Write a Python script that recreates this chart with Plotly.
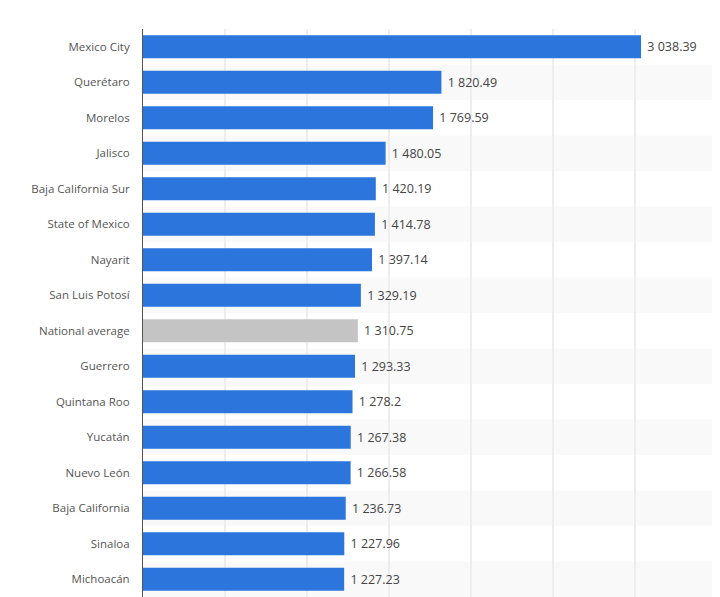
import plotly.graph_objects as go

states = ['Mexico City', 'Querétaro', 'Morelos', 'Jalisco', 'Baja California Sur',
          'State of Mexico', 'Nayarit', 'San Luis Potosí', 'National average',
          'Guerrero', 'Quintana Roo', 'Yucatán', 'Nuevo León', 'Baja California',
          'Sinaloa', 'Michoacán']
values = [3038.39, 1820.49, 1769.59, 1480.05, 1420.19, 1414.78, 1397.14, 1329.19,
          1310.75, 1293.33, 1278.2, 1267.38, 1266.58, 1236.73, 1227.96, 1227.23]

blue = 'rgb(43, 117, 220)'
grey = 'rgb(196, 196, 196)'
colors = [grey if s == 'National average' else blue for s in states]

fig = go.Figure()
fig.add_trace(go.Bar(
    x=values, y=states, orientation='h',
    marker=dict(color=colors, line_width=0),
    width=0.65,
    texttemplate='\u00a0%{x:,}',
    textposition='outside',
    textfont=dict(family='Open Sans', size=12.5, color='#444444'),
    cliponaxis=False,
    hoverinfo='x+y',
))

# light banding on every second row
shapes = []
for i, s in enumerate(states):
    if i % 2 == 1:
        shapes.append(dict(type='rect', xref='paper', yref='y',
                           x0=0, x1=1, y0=i - 0.5, y1=i + 0.5,
                           fillcolor='rgb(249, 249, 249)', line_width=0,
                           layer='below'))

fig.update_layout(
    width=720, height=597,
    margin=dict(l=135, r=8, t=21, b=8),
    paper_bgcolor='white', plot_bgcolor='white',
    separators='. ',
    showlegend=False,
    shapes=shapes,
    xaxis=dict(range=[0, 3520], dtick=500, showgrid=True,
               gridcolor='rgb(237, 237, 237)', gridwidth=1.5,
               zeroline=False, showticklabels=False),
    yaxis=dict(autorange='reversed', showline=True, linecolor='#555555',
               linewidth=1, showgrid=False, ticks='',
               ticklabelstandoff=10,
               tickfont=dict(family='Open Sans', size=11.5, color='#555555')),
)

fig.write_html('out.html')
